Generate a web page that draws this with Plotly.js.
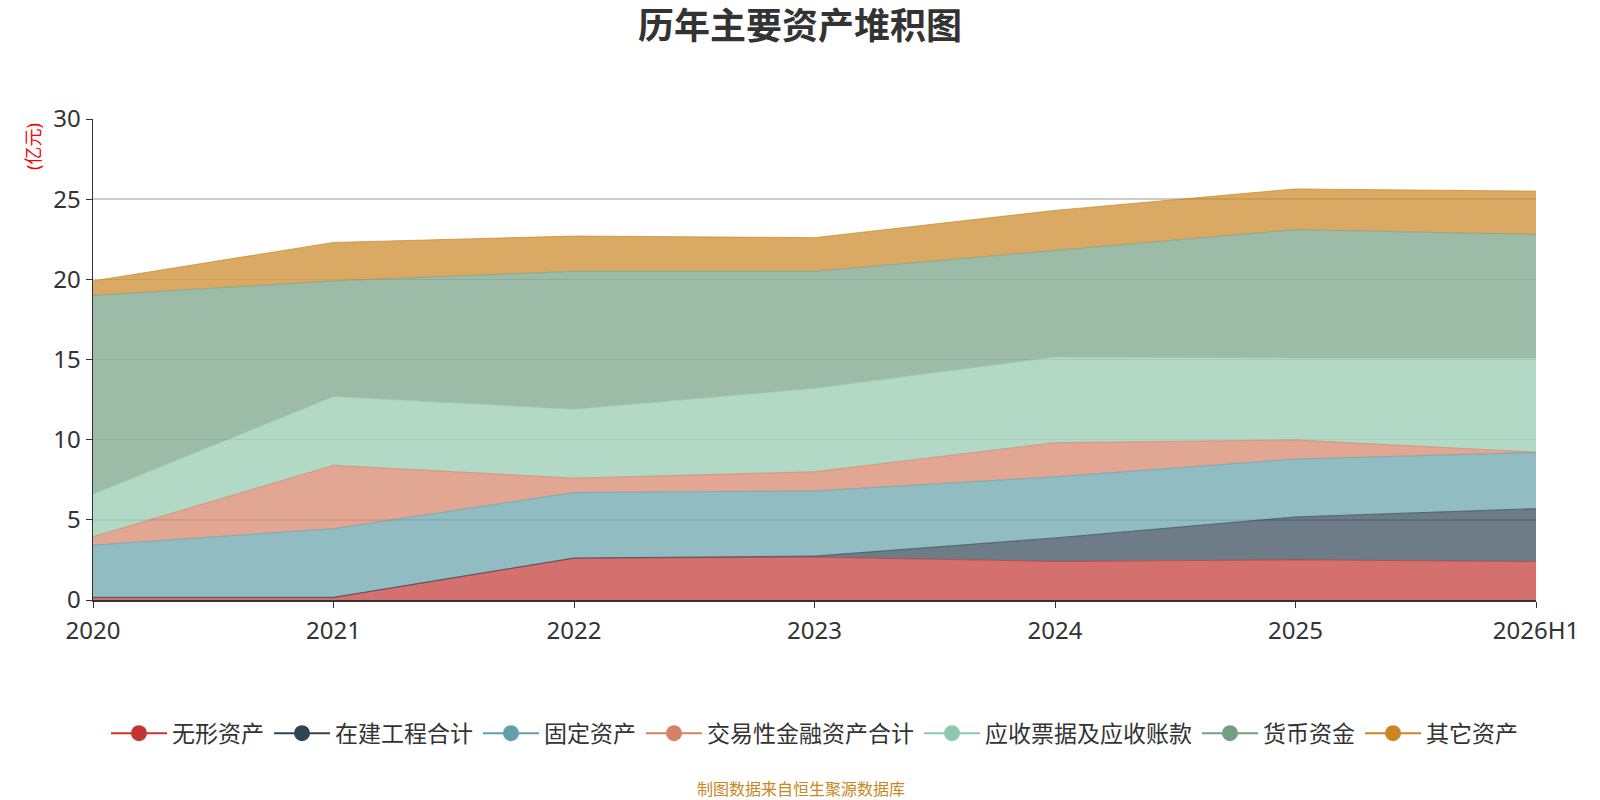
<!DOCTYPE html>
<html>
<head>
<meta charset="utf-8">
<script src="https://cdn.plot.ly/plotly-3.0.1.min.js"></script>
<style>
  html, body { margin: 0; padding: 0; background: #fff; }
  #chart { width: 1600px; height: 800px; }
</style>
</head>
<body>
<div id="chart"></div>
<script>
// years on the x axis
const years = ['2020', '2021', '2022', '2023', '2024', '2025', '2026H1']

// values in 亿元 (bottom to top)
const intangible = [0.15, 0.15, 2.6, 2.67, 2.41, 2.5, 2.4]        // 无形资产
const construction = [0.02, 0.02, 0.02, 0.07, 1.46, 2.68, 3.3]    // 在建工程合计
const fixedAssets = [3.25, 4.28, 4.08, 4.06, 3.81, 3.61, 3.5]     // 固定资产
const tradingAssets = [0.53, 3.95, 0.9, 1.2, 2.13, 1.19, 0.02]    // 交易性金融资产合计
const receivables = [2.65, 4.3, 4.3, 5.2, 5.35, 5.12, 5.88]       // 应收票据及应收账款
const cash = [12.4, 7.2, 8.6, 7.3, 6.64, 8.0, 7.7]                // 货币资金
const others = [0.9, 2.4, 2.2, 2.1, 2.5, 2.54, 2.7]               // 其它资产

const seriesNames = ['无形资产', '在建工程合计', '固定资产', '交易性金融资产合计',
  '应收票据及应收账款', '货币资金', '其它资产']
const seriesValues = [intangible, construction, fixedAssets, tradingAssets,
  receivables, cash, others]
const colors = ['194,53,49', '47,69,84', '97,160,168', '212,130,101',
  '145,199,174', '116,159,131', '202,134,34']

const font = '"Noto Sans", "Noto Sans CJK SC", sans-serif'
const traces = []

seriesValues.forEach((values, i) => {
  traces.push({
    x: years,
    y: values,
    name: seriesNames[i],
    type: 'scatter',
    mode: 'lines',
    stackgroup: 'assets',
    line: { color: 'rgba(' + colors[i] + ',0.7)', width: 1 },
    fillcolor: 'rgba(' + colors[i] + ',0.7)',
    showlegend: false,
    hoverinfo: 'none'
  })
})

// legend entries drawn as line + dot, like the original
seriesNames.forEach((name, i) => {
  traces.push({
    x: [null],
    y: [null],
    name: name,
    type: 'scatter',
    mode: 'lines+markers',
    line: { color: 'rgb(' + colors[i] + ')', width: 2 },
    marker: { color: 'rgb(' + colors[i] + ')', size: 24 },
    hoverinfo: 'none'
  })
})

const layout = {
  width: 1600,
  height: 800,
  margin: { l: 93, r: 64, t: 119, b: 200 },
  paper_bgcolor: '#fff',
  plot_bgcolor: '#fff',
  font: { family: font, color: '#333' },
  title: {
    text: '<b>历年主要资产堆积图</b>',
    font: { family: font, size: 36, color: '#333' },
    x: 0.5,
    xanchor: 'center',
    y: 0.967,
    yanchor: 'middle',
    yref: 'container'
  },
  xaxis: {
    type: 'category',
    range: [0, 6],
    showgrid: false,
    showline: true,
    linecolor: '#333',
    linewidth: 1.5,
    ticks: 'outside',
    ticklen: 6,
    tickcolor: '#333',
    ticklabelstandoff: 3,
    tickfont: { size: 24, color: '#333' },
    fixedrange: true
  },
  yaxis: {
    range: [0, 30],
    dtick: 5,
    showgrid: true,
    gridcolor: '#cccccc',
    gridwidth: 1.5,
    zeroline: false,
    showline: true,
    linecolor: '#333',
    linewidth: 1.5,
    ticks: 'outside',
    ticklen: 6,
    tickcolor: '#333',
    tickfont: { size: 24, color: '#333' },
    fixedrange: true
  },
  legend: {
    orientation: 'h',
    traceorder: 'normal',
    x: 0.5,
    xanchor: 'center',
    y: -0.277,
    yanchor: 'middle',
    itemwidth: 56,
    font: { size: 23, color: '#333' },
    itemclick: false,
    itemdoubleclick: false
  },
  annotations: [
    {
      text: '(亿元)',
      xref: 'paper',
      yref: 'paper',
      x: -0.0416,
      y: 0.944,
      xanchor: 'center',
      yanchor: 'middle',
      textangle: -90,
      showarrow: false,
      font: { size: 18, color: '#ff0000' }
    },
    {
      text: '制图数据来自恒生聚源数据库',
      xref: 'paper',
      yref: 'paper',
      x: 0.4906,
      y: -0.393,
      xanchor: 'center',
      yanchor: 'middle',
      showarrow: false,
      font: { size: 16, color: '#ca8622' }
    }
  ]
}

Plotly.newPlot('chart', traces, layout, { displayModeBar: false, staticPlot: true })
</script>
</body>
</html>
